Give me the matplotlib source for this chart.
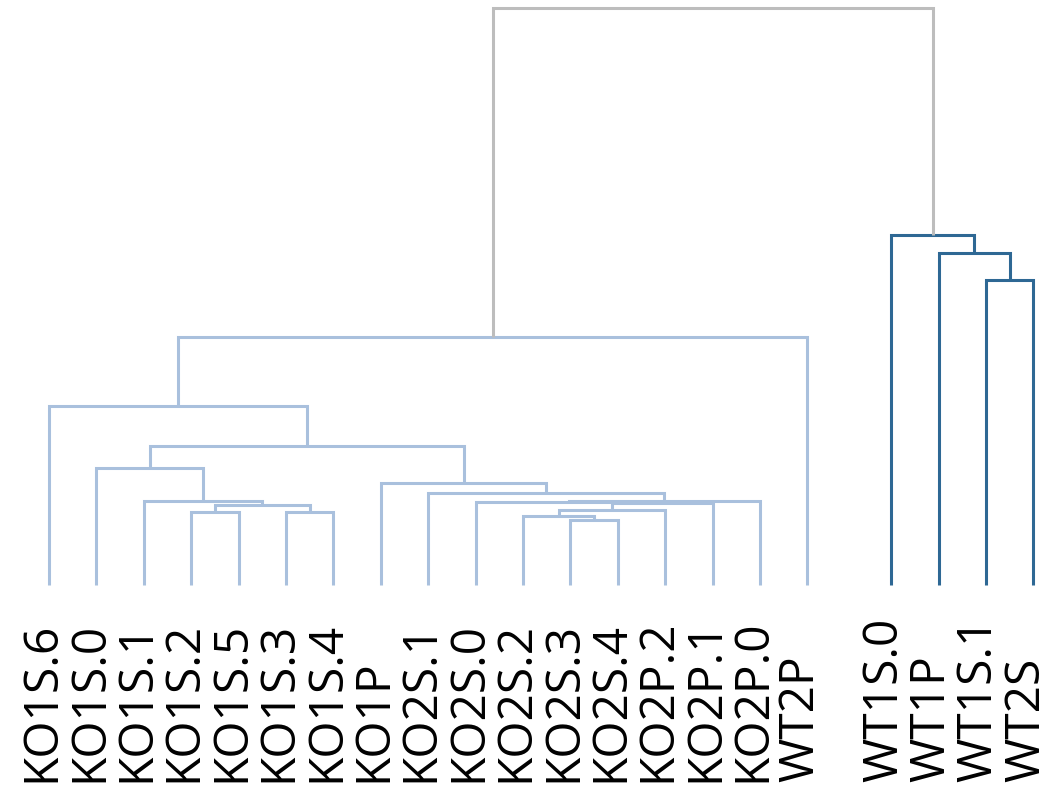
import numpy as np
import matplotlib
matplotlib.use('Agg')
import matplotlib.pyplot as plt

# 잎(leaf) 이름 - 그림에 보이는 순서대로
labels = ['KO1S.6', 'KO1S.0', 'KO1S.1', 'KO1S.2', 'KO1S.5', 'KO1S.3', 'KO1S.4',
          'KO1P', 'KO2S.1', 'KO2S.0', 'KO2S.2', 'KO2S.3', 'KO2S.4', 'KO2P.2',
          'KO2P.1', 'KO2P.0', 'WT2P', 'WT1S.0', 'WT1P', 'WT1S.1', 'WT2S']

# 병합 정보 (linkage 형식): 왼쪽, 오른쪽, 높이
# 번호 < 21 은 잎, 21 이상은 앞에서 만든 병합 노드
merge_left = [3, 5, 21, 2, 1, 11, 10, 27, 28, 9, 30, 8, 7, 25, 0, 35, 19, 18, 17, 36]
merge_right = [4, 6, 22, 23, 24, 12, 26, 13, 14, 29, 15, 31, 32, 33, 34, 16, 20, 37, 38, 39]
merge_height = [0.127, 0.126, 0.139, 0.145, 0.203, 0.113, 0.120, 0.130, 0.142,
                0.1438, 0.1456, 0.159, 0.177, 0.241, 0.310, 0.430,
                0.529, 0.575, 0.607, 1.0]
# 클러스터 색상 그룹: 0 = KO 쪽, 1 = WT 쪽, 2 = 루트
merge_group = [0] * 16 + [1] * 3 + [2]

colors = ['#a9c0dd', '#2e6894', '#bdbdbd']

n = len(labels)
wt_gap = 0.77  # WT 그룹 앞의 간격
leaf_x = [i + (wt_gap if i >= 17 else 0) for i in range(n)]

xs = list(leaf_x)
hs = [0.0] * n

fig = plt.figure(figsize=(10.5, 8.06), dpi=100)
ax = fig.add_axes([0, 0, 1, 1])

for l, r, h, g in zip(merge_left, merge_right, merge_height, merge_group):
    xl, xr = xs[l], xs[r]
    ax.plot([xl, xl, xr, xr], [hs[l], h, h, hs[r]],
            color=colors[g], lw=2.2, solid_joinstyle='miter', solid_capstyle='butt')
    xs.append((xl + xr) / 2)
    hs.append(h)

# 라벨은 아래쪽 기준으로 정렬
for x, name in zip(leaf_x, labels):
    ax.text(x - 0.15, -0.341, name, rotation=90, ha='center', va='bottom',
            fontsize=34.5, family=['Open Sans', 'DejaVu Sans'], color='black')

ax.set_xlim(-1.034, 21.12)
ax.set_ylim(-0.383, 1.0139)
ax.axis('off')

plt.savefig('out.png', dpi=100)
